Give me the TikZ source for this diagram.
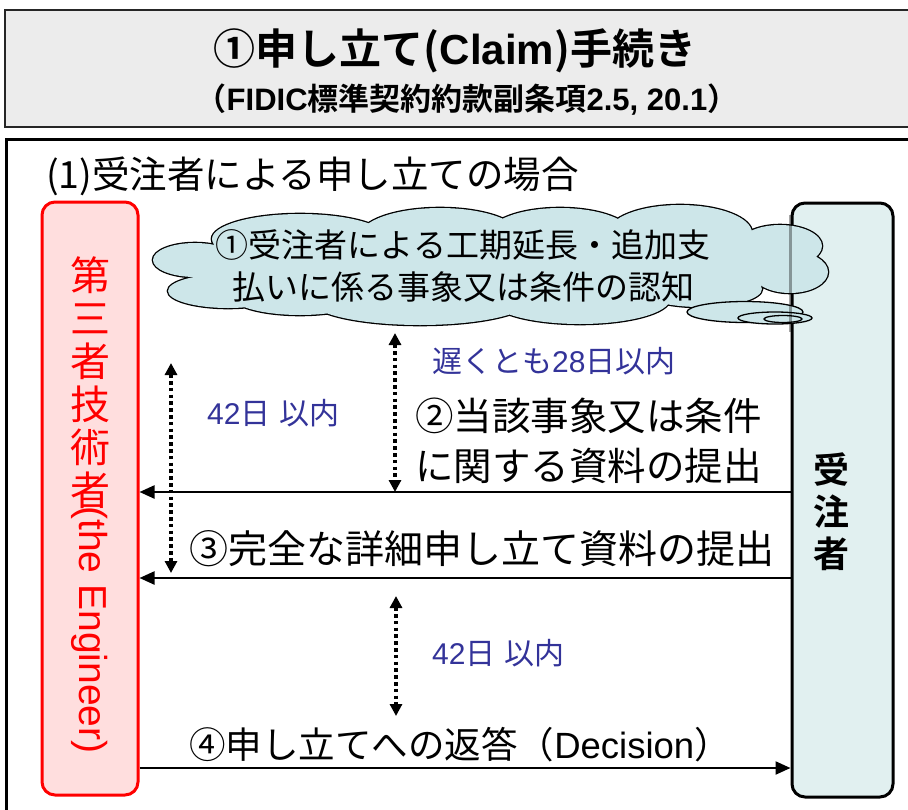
\documentclass[tikz,border=0pt]{standalone}
\usepackage{fontspec}
\setmainfont{Noto Sans CJK JP}[BoldFont={Noto Sans CJK JP Bold}]
\newfontfamily\lat{Liberation Sans}
\usetikzlibrary{shapes.geometric,arrows.meta}
\newcommand{\setfs}[1]{\fontsize{#1}{#1}\selectfont}
\definecolor{titlefill}{RGB}{236,236,236}
\definecolor{pinkfill}{RGB}{255,222,222}
\definecolor{cyanfill}{RGB}{225,240,240}
\definecolor{cloudfill}{RGB}{205,230,233}
\definecolor{dayblue}{RGB}{51,51,153}
\newcommand{\puffs}{%
  (195,260) ellipse [x radius=42, y radius=17]
  (228,291) ellipse [x radius=60, y radius=17]
  (300,239) ellipse [x radius=88, y radius=25]
  (440,236) ellipse [x radius=80, y radius=28]
  (560,235) ellipse [x radius=72, y radius=27]
  (680,233) ellipse [x radius=72, y radius=28]
  (780,246) ellipse [x radius=42, y radius=21]
  (790,272) ellipse [x radius=38, y radius=21]
  (300,295) ellipse [x radius=70, y radius=20]
  (420,300) ellipse [x radius=110, y radius=25]
  (580,299) ellipse [x radius=90, y radius=25]
  (700,289) ellipse [x radius=62, y radius=18]
  (490,265) ellipse [x radius=290, y radius=38]}
\begin{document}
\begin{tikzpicture}[x=1pt,y=-1pt,
  party/.style={draw, rounded corners=13pt, line width=3pt, minimum width=96pt, minimum height=593pt, inner sep=0pt},
  flow/.style={line width=2.3pt, -{Triangle[length=15pt,width=13pt]}},
  span/.style={line width=3.6pt, dash pattern=on 3.6pt off 3.2pt, {Triangle[length=12pt,width=12pt]}-{Triangle[length=12pt,width=12pt]}},
  tailell/.style={ellipse, draw, line width=1.3pt, fill=cloudfill, inner sep=0pt},
  lbl/.style={inner sep=0pt},
  days/.style={lbl, text=dayblue, font=\setfs{30}}]
\useasboundingbox (0,0) rectangle (908,809);
% frames
\node[draw=black!85, fill=titlefill, line width=2pt, minimum width=910pt, minimum height=117pt, inner sep=0pt] (titlebox) at (460,68.5) {};
\node[draw, line width=3pt, minimum width=920pt, minimum height=700pt, inner sep=0pt, anchor=north west] (frame) at (5,138) {};
\node[lbl, font=\bfseries\setfs{42}] (title) at (455,51) {①申し立て({\lat Claim})手続き};
\node[lbl, font=\bfseries\setfs{31}] (subtitle) at (467,100) {（{\lat FIDIC}標準契約約款副条項{\lat 2.5, 20.1}）};
\node[lbl, anchor=west, font=\setfs{37.5}] (case) at (46,176) {(1)受注者による申し立ての場合};
% parties
\node[party, draw=red, fill=pinkfill] (L) at (90,498.5) {};
\node[party, draw=black, fill=cyanfill, minimum width=101pt, minimum height=594pt] (R) at (842.5,500) {};
\node[lbl, text=red, align=center, font=\fontsize{40}{43}\selectfont] (Ltxt) at (90,383) {第\\三\\者\\技\\術\\者};
\node[lbl, text=red, rotate=-90, font=\lat\setfs{39}] (Leng) at (90,630) {(the Engineer)};
\node[lbl, align=center, font=\bfseries\fontsize{36}{42}\selectfont] (Rtxt) at (831,512) {受\\注\\者};
% cloud (union of puffs)
\path[draw, line width=2.6pt] \puffs;
\path[fill=cloudfill] \puffs;
\node[tailell, minimum width=116pt, minimum height=21pt] (tail1) at (745,312) {};
\node[tailell, minimum width=74pt, minimum height=12pt] (tail2) at (775,318) {};
\node[tailell, minimum width=38pt, minimum height=7pt] (tail3) at (783,319) {};
\draw[line width=3pt, draw opacity=0.35] ([yshift=-13pt]R.north west) -- ([yshift=-130pt]R.north west);
\node[lbl, align=center, font=\fontsize{33}{42}\selectfont] (cloudtxt) at (463,266) {①受注者による工期延長・追加支\\払いに係る事象又は条件の認知};
% labels
\node[days, anchor=west] (d28) at (432,361) {遅くとも{\lat 28}日以内};
\node[days, anchor=west] (d42a) at (207,413) {{\lat 42}日\hspace{9pt}以内};
\node[lbl, anchor=west, align=left, font=\fontsize{38.5}{50}\selectfont] (s2) at (415,441) {②当該事象又は条件\\に関する資料の提出};
\node[lbl, font=\setfs{39}] (s3) at (482,549) {③完全な詳細申し立て資料の提出};
\node[days, anchor=west] (d42b) at (432,653) {{\lat 42}日\hspace{9pt}以内};
\node[lbl, font=\setfs{36.5}] (s4) at (460,745) {④申し立てへの返答（{\lat Decision}）};
% connector levels
\coordinate (y2) at (0,492);
\coordinate (y3) at (0,578);
\coordinate (y4) at (0,768);
\draw[flow] (R.west |- y2) -- (L.east |- y2);
\draw[flow] (R.west |- y3) -- (L.east |- y3);
\draw[flow] (L.east |- y4) -- (R.west |- y4);
% day spans
\coordinate (d1t) at (395,333);
\coordinate (d1b) at (395,492);
\coordinate (d2t) at (171,363);
\coordinate (d2b) at (171,573);
\coordinate (d3t) at (396,596);
\coordinate (d3b) at (396,716);
\draw[span] (d1t) -- (d1b);
\draw[span] (d2t) -- (d2b);
\draw[span] (d3t) -- (d3b);
\end{tikzpicture}
\end{document}
